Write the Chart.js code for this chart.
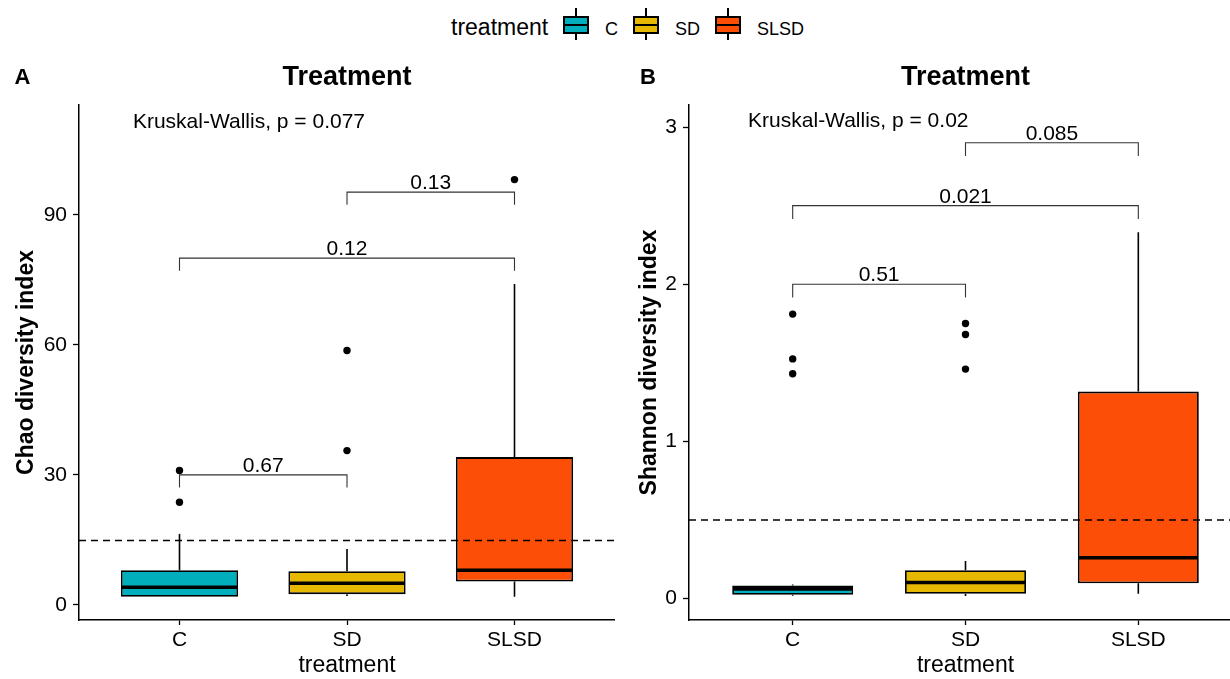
<!DOCTYPE html>
<html>
<head>
<meta charset="utf-8">
<title>Chao and Shannon diversity by treatment</title>
<script src="https://cdn.jsdelivr.net/npm/chart.js@4.4.1/dist/chart.umd.min.js"></script>
<style>
    html, body { margin: 0; padding: 0; background: #fff; overflow: hidden; }
    #page { position: relative; width: 1230px; height: 679px; overflow: hidden;
            font-family: "Liberation Sans", Arial, sans-serif; color: #000; }
    #chaoChart { position: absolute; left: 0; top: 0; }
    #shannonChart { position: absolute; left: 615px; top: 0; }
    .legend-title, .legend-label { position: absolute; white-space: nowrap; }
    .legend-title { font-size: 23px; line-height: 24px; top: 15px; left: 451px; }
    .legend-label { font-size: 18px; line-height: 20px; top: 19px; }
    .key { position: absolute; top: 8px; width: 26px; height: 32px; }
    .key .whisker { position: absolute; left: 12px; top: 0; width: 2px; height: 32px; background: #000; }
    .key .box { position: absolute; left: 0; top: 8px; width: 26px; height: 18px;
                box-sizing: border-box; border: 2px solid #000; }
    .key .median { position: absolute; left: 0; top: 16px; width: 26px; height: 2px; background: #000; }
</style>
</head>
<body>
<div id="page">
    <div id="legend"></div>
    <canvas id="chaoChart" width="615" height="679"></canvas>
    <canvas id="shannonChart" width="627" height="679"></canvas>
</div>
<script>
// === DATA ===
const categories = ['C', 'SD', 'SLSD'];
const fillColors = ['#00AFBB', '#E7B800', '#FC4E07'];
const bracketPairs = [[1, 2], [1, 3], [2, 3]];

// Chao diversity index (panel A)
const chaoQ1 = [1.9, 2.5, 5.4];
const chaoMedian = [4.1, 5.0, 8.0];
const chaoQ3 = [8.0, 7.8, 34.1];
const chaoWhiskerLow = [1.9, 2.1, 1.9];
const chaoWhiskerHigh = [16.4, 12.9, 74.0];
const chaoOutliers = [[23.7, 31.0], [35.6, 58.7], [98.1]];
const chaoTicks = [0, 30, 60, 90];
const chaoRefLine = 14.9;
const chaoPValues = ['0.67', '0.12', '0.13'];
const chaoBracketY = [30.0, 80.0, 95.2];
const chaoKruskal = 'Kruskal-Wallis, p = 0.077';

// Shannon diversity index (panel B)
const shannonQ1 = [0.024, 0.031, 0.098];
const shannonMedian = [0.062, 0.103, 0.26];
const shannonQ3 = [0.084, 0.18, 1.317];
const shannonWhiskerLow = [0.018, 0.017, 0.031];
const shannonWhiskerHigh = [0.09, 0.239, 2.33];
const shannonOutliers = [[1.81, 1.525, 1.43], [1.75, 1.68, 1.46], []];
const shannonTicks = [0, 1, 2, 3];
const shannonRefLine = 0.5;
const shannonPValues = ['0.51', '0.021', '0.085'];
const shannonBracketY = [2.0, 2.5, 2.9];
const shannonKruskal = 'Kruskal-Wallis, p = 0.02';

Chart.defaults.font.family = '"Liberation Sans", Arial, sans-serif';
Chart.defaults.color = '#000';

// === LEGEND (html, built from the category arrays) ===
const legend = document.getElementById('legend');
const keyLefts = [563, 633, 715];
const labelLefts = [605, 675, 757];
legend.innerHTML = '<div class="legend-title">treatment</div>';
categories.forEach((cat, i) => {
    legend.innerHTML +=
        `<div class="key" style="left:${keyLefts[i]}px"><div class="whisker"></div>` +
        `<div class="box" style="background:${fillColors[i]}"></div><div class="median"></div></div>` +
        `<div class="legend-label" style="left:${labelLefts[i]}px">${cat}</div>`;
});

// whiskers, medians, dashed line, brackets and annotations
function makeExtras(panel) {
    return {
        id: 'boxExtras',
        beforeDatasetsDraw(chart) {
            const { ctx, scales: { x, y } } = chart;
            ctx.save();
            ctx.strokeStyle = '#000';
            ctx.lineWidth = 1.6;
            categories.forEach((c, i) => {
                const px = x.getPixelForValue(i + 1);
                ctx.beginPath();
                ctx.moveTo(px, y.getPixelForValue(panel.q3[i]));
                ctx.lineTo(px, y.getPixelForValue(panel.high[i]));
                ctx.moveTo(px, y.getPixelForValue(panel.q1[i]));
                ctx.lineTo(px, y.getPixelForValue(panel.low[i]));
                ctx.stroke();
            });
            ctx.restore();
        },
        afterDatasetsDraw(chart) {
            const { ctx, chartArea, scales: { x, y } } = chart;
            ctx.save();

            // medians
            const bars = chart.getDatasetMeta(0).data;
            ctx.strokeStyle = '#000';
            ctx.lineWidth = 3.6;
            bars.forEach((bar, i) => {
                const half = bar.width / 2;
                const py = y.getPixelForValue(panel.median[i]);
                ctx.beginPath();
                ctx.moveTo(bar.x - half + 1, py);
                ctx.lineTo(bar.x + half - 1, py);
                ctx.stroke();
            });

            // reference line
            const ry = y.getPixelForValue(panel.refLine);
            ctx.lineWidth = 1.5;
            ctx.setLineDash([7, 5]);
            ctx.beginPath();
            ctx.moveTo(chartArea.left, ry);
            ctx.lineTo(chartArea.right, ry);
            ctx.stroke();
            ctx.setLineDash([]);

            // comparison brackets
            ctx.strokeStyle = '#333';
            ctx.lineWidth = 1.1;
            ctx.fillStyle = '#000';
            ctx.font = '21px "Liberation Sans", Arial, sans-serif';
            ctx.textAlign = 'center';
            ctx.textBaseline = 'alphabetic';
            bracketPairs.forEach(([a, b], i) => {
                const x1 = x.getPixelForValue(a);
                const x2 = x.getPixelForValue(b);
                const top = y.getPixelForValue(panel.bracketY[i]);
                const tip = y.getPixelForValue(panel.bracketY[i] - panel.tip);
                ctx.beginPath();
                ctx.moveTo(x1, tip);
                ctx.lineTo(x1, top);
                ctx.lineTo(x2, top);
                ctx.lineTo(x2, tip);
                ctx.stroke();
                ctx.fillText(panel.pValues[i], (x1 + x2) / 2, top - 3);
            });

            // Kruskal-Wallis label
            ctx.textAlign = 'left';
            ctx.fillText(panel.kruskal, x.getPixelForValue(panel.kruskalX), y.getPixelForValue(panel.kruskalY));

            // panel letter
            ctx.font = 'bold 22px "Liberation Sans", Arial, sans-serif';
            ctx.textAlign = 'center';
            ctx.fillText(panel.letter, panel.letterX, 84);
            ctx.restore();
        }
    };
}

function makePanel(canvasId, panel) {
    const boxes = categories.map((c, i) => ({ x: i + 1, y: [panel.q1[i], panel.q3[i]] }));
    const points = [];
    panel.outliers.forEach((list, i) => list.forEach(v => points.push({ x: i + 1, y: v })));

    return new Chart(document.getElementById(canvasId), {
        type: 'bar',
        data: {
            datasets: [{
                type: 'bar',
                data: boxes,
                backgroundColor: fillColors,
                borderColor: '#000',
                borderWidth: 1.8,
                borderSkipped: false,
                barPercentage: 0.7,
                categoryPercentage: 1.0
            }, {
                type: 'scatter',
                data: points,
                pointRadius: 3.7,
                pointBackgroundColor: '#000',
                pointBorderWidth: 0
            }]
        },
        options: {
            responsive: false,
            animation: false,
            events: [],
            layout: { padding: 0, autoPadding: false },
            plugins: {
                legend: { display: false },
                tooltip: { enabled: false },
                title: {
                    display: true,
                    text: 'Treatment',
                    fullSize: false,
                    color: '#000',
                    font: { size: 27, weight: 'bold' },
                    padding: { top: 61.8, bottom: 10.8 }
                }
            },
            scales: {
                x: {
                    type: 'linear',
                    min: 0.4,
                    max: 3.6,
                    offset: false,
                    afterBuildTicks: s => { s.ticks = categories.map((c, i) => ({ value: i + 1 })); },
                    afterFit: s => { s.height = 59; s.paddingLeft = 0; s.paddingRight = 0; },
                    ticks: {
                        callback: v => categories[v - 1],
                        font: { size: 21 },
                        color: '#000',
                        padding: 3,
                        maxRotation: 0
                    },
                    grid: { offset: false, drawOnChartArea: false, tickLength: 5, tickColor: '#000', tickWidth: 1.3 },
                    border: { color: '#000', width: 1.5 },
                    title: {
                        display: true,
                        text: 'treatment',
                        color: '#000',
                        font: { size: 23 },
                        padding: { top: 0, bottom: 0 }
                    }
                },
                y: {
                    min: panel.yMin,
                    max: panel.yMax,
                    afterBuildTicks: s => { s.ticks = panel.ticks.map(v => ({ value: v })); },
                    afterFit: s => { s.width = panel.yWidth; s.paddingTop = 0; s.paddingBottom = 0; },
                    ticks: { font: { size: 21 }, color: '#000', padding: 6 },
                    grid: { drawOnChartArea: false, tickLength: 6, tickColor: '#000', tickWidth: 1.3 },
                    border: { color: '#000', width: 1.5 },
                    title: {
                        display: true,
                        text: panel.yTitle,
                        color: '#000',
                        font: { size: 23, weight: 'bold' },
                        padding: { top: panel.yTitlePad, bottom: 0 }
                    }
                }
            }
        },
        plugins: [makeExtras(panel)]
    });
}

makePanel('chaoChart', {
    q1: chaoQ1, median: chaoMedian, q3: chaoQ3,
    low: chaoWhiskerLow, high: chaoWhiskerHigh, outliers: chaoOutliers,
    ticks: chaoTicks, refLine: chaoRefLine,
    pValues: chaoPValues, bracketY: chaoBracketY, tip: 2.9,
    kruskal: chaoKruskal, kruskalX: 0.722, kruskalY: 110.0,
    yMin: -3.46, yMax: 115.3, yWidth: 79, yTitlePad: 13,
    yTitle: 'Chao diversity index', letter: 'A', letterX: 22.5
});

makePanel('shannonChart', {
    q1: shannonQ1, median: shannonMedian, q3: shannonQ3,
    low: shannonWhiskerLow, high: shannonWhiskerHigh, outliers: shannonOutliers,
    ticks: shannonTicks, refLine: shannonRefLine,
    pValues: shannonPValues, bracketY: shannonBracketY, tip: 0.085,
    kruskal: shannonKruskal, kruskalX: 0.742, kruskalY: 3.0,
    yMin: -0.136, yMax: 3.14, yWidth: 74, yTitlePad: 21,
    yTitle: 'Shannon diversity index', letter: 'B', letterX: 33
});
</script>
</body>
</html>
